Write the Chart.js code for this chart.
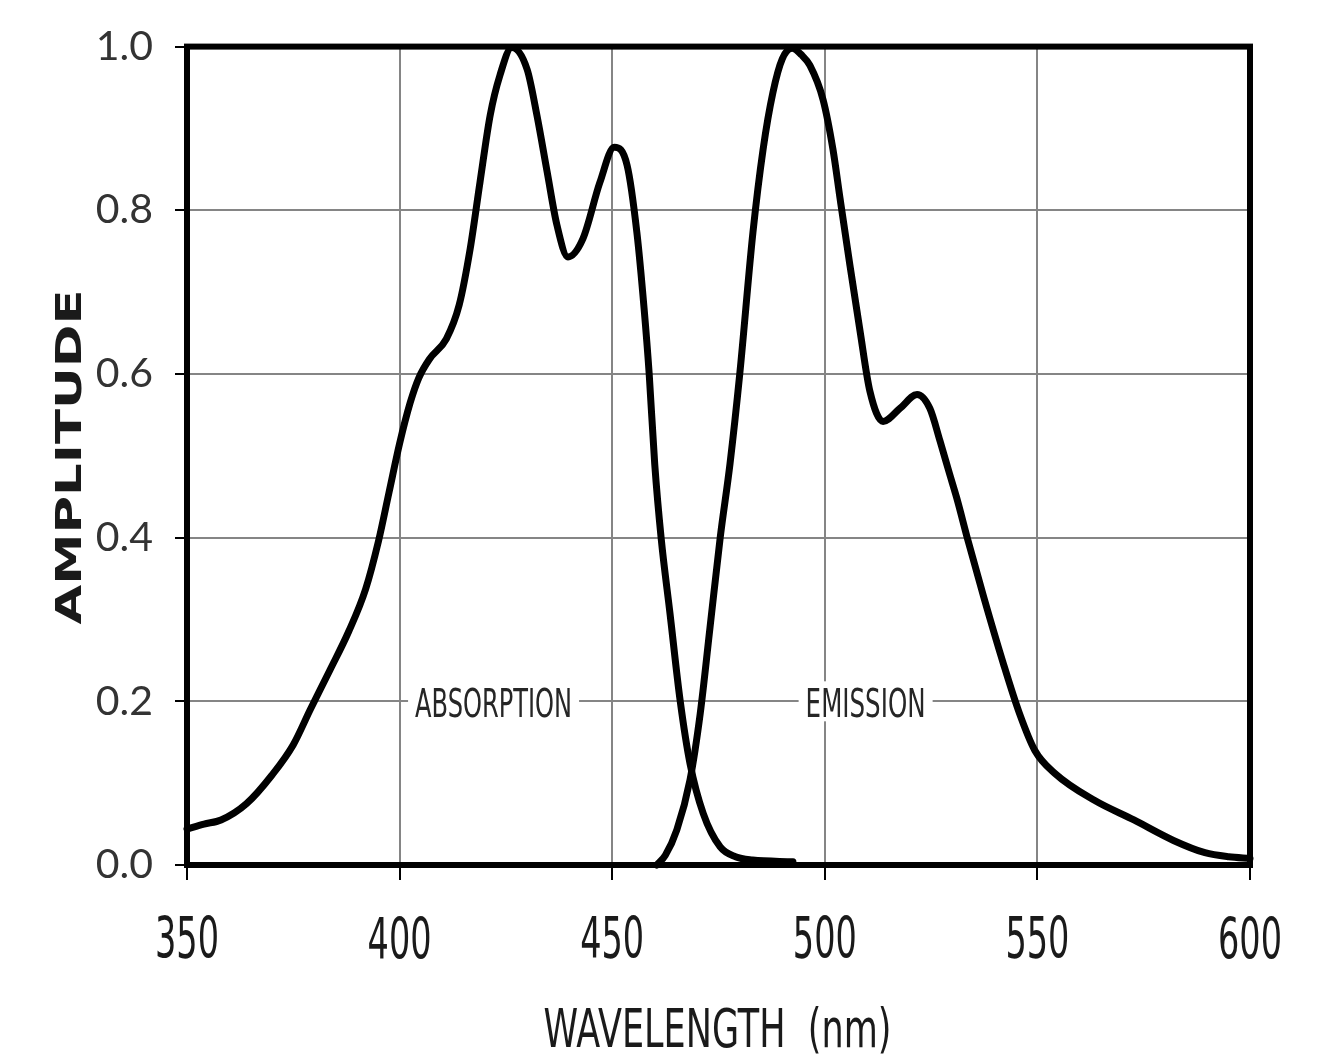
<!DOCTYPE html>
<html>
<head>
<meta charset="utf-8">
<script src="https://cdn.jsdelivr.net/npm/chart.js@4/dist/chart.umd.min.js"></script>
<style>
  html, body { margin: 0; padding: 0; background: #ffffff; }
  #wrap { width: 1336px; height: 1061px; }
</style>
</head>
<body>
<div id="wrap"><canvas id="spectrumChart" width="1336" height="1061"></canvas></div>
<script>
// absorption curve
const absWavelength = [350, 354, 358, 364, 370, 375, 379, 383.6, 388, 392, 395, 397.5, 400, 402.5, 404.5, 407, 411, 414, 416.6, 418.9, 421.3, 423.6, 426.4, 430, 432.3, 434.7, 437, 439.6, 443.1, 447.1, 450.5, 453.5, 455.8, 457.5, 458.7, 460, 461.5, 463.6, 466, 468.3, 471.4, 475.4, 479, 483, 492.5];
const absAmplitude = [0.044, 0.05, 0.055, 0.075, 0.11, 0.147, 0.19, 0.238, 0.285, 0.337, 0.395, 0.455, 0.515, 0.565, 0.595, 0.618, 0.643, 0.684, 0.753, 0.834, 0.916, 0.965, 0.999, 0.972, 0.916, 0.847, 0.782, 0.743, 0.765, 0.834, 0.877, 0.855, 0.773, 0.68, 0.6, 0.49, 0.4, 0.307, 0.2, 0.124, 0.063, 0.022, 0.01, 0.006, 0.004];

// emission curve
const emWavelength = [460.5, 462.5, 465.2, 468.3, 470.7, 473, 475.4, 477.7, 480, 483.1, 485.5, 487.8, 490, 492.3, 494.5, 496.5, 499.6, 501.9, 503.6, 505.9, 508.3, 510.6, 513.7, 517.7, 521.7, 524.7, 527.1, 529.4, 531, 533.7, 537.4, 542, 545.8, 549.4, 554.1, 563.4, 572.7, 582, 589.4, 595, 600];
const emAmplitude = [0, 0.012, 0.043, 0.104, 0.185, 0.29, 0.4, 0.49, 0.6, 0.773, 0.875, 0.944, 0.985, 0.998, 0.99, 0.977, 0.935, 0.875, 0.814, 0.733, 0.652, 0.579, 0.542, 0.558, 0.575, 0.558, 0.518, 0.477, 0.449, 0.396, 0.327, 0.246, 0.185, 0.14, 0.112, 0.079, 0.055, 0.03, 0.015, 0.01, 0.008];

const xTicks = [350, 400, 450, 500, 550, 600];
const yTicks = [0, 0.2, 0.4, 0.6, 0.8, 1.0];

// curve labels sit on the 0.2 gridline
const curveLabels = ['ABSORPTION', 'EMISSION'];
const curveLabelX = [422.1, 509.6];
const curveLabelY = [0.2, 0.2];

const xTitle = 'WAVELENGTH  (nm)';
const yTitle = 'AMPLITUDE';

function toPoints(xs, ys) {
    return xs.map((x, i) => ({ x: x, y: ys[i] }));
}

// draws text squeezed/stretched to a given width, centred on (cx, cy)
function fitText(ctx, text, cx, cy, width, font, color, rotate) {
    ctx.save();
    ctx.translate(cx, cy);
    if (rotate) {
        ctx.rotate(-Math.PI / 2);
    }
    ctx.font = font;
    const m = ctx.measureText(text);
    ctx.scale(width / m.width, 1);
    ctx.fillStyle = color;
    ctx.textAlign = 'center';
    ctx.textBaseline = 'alphabetic';
    ctx.fillText(text, 0, (m.actualBoundingBoxAscent - m.actualBoundingBoxDescent) / 2);
    ctx.restore();
}

const framePlugin = {
    id: 'frame',
    afterDatasetsDraw(chart) {
        const { ctx, chartArea } = chart;
        ctx.save();
        ctx.strokeStyle = '#000000';
        ctx.lineWidth = 6;
        ctx.strokeRect(chartArea.left, chartArea.top, chartArea.right - chartArea.left, chartArea.bottom - chartArea.top);
        ctx.restore();
    },
};

const textPlugin = {
    id: 'texts',
    afterDraw(chart) {
        const { ctx, scales } = chart;
        const labelWidths = [157, 120];
        const condensed = '"DejaVu Sans", sans-serif';

        curveLabels.forEach((label, i) => {
            const cx = scales.x.getPixelForValue(curveLabelX[i]);
            const cy = scales.y.getPixelForValue(curveLabelY[i]);
            const w = labelWidths[i];
            ctx.save();
            ctx.fillStyle = '#ffffff';
            ctx.fillRect(cx - w / 2 - 7, cy - 20, w + 14, 40);
            ctx.restore();
            fitText(ctx, label, cx, cy + 1, w, '39px ' + condensed, '#262626', false);
        });

        // narrow tick numbers under the x axis, placed by the x scale
        scales.x.ticks.forEach((t) => {
            const px = scales.x.getPixelForValue(t.value);
            fitText(ctx, String(t.value), px, 937, 64, '57px ' + condensed, '#1a1a1a', false);
        });

        const area = chart.chartArea;
        fitText(ctx, xTitle, (area.left + area.right) / 2 - 1, 1030, 348, '54px ' + condensed, '#1a1a1a', false);
        fitText(ctx, yTitle, 68, 457, 335, 'bold 36px "DejaVu Sans", sans-serif', '#1a1a1a', true);
    },
};

new Chart(document.getElementById('spectrumChart'), {
    type: 'scatter',
    data: {
        datasets: [
            {
                label: 'Absorption',
                data: toPoints(absWavelength, absAmplitude),
                showLine: true,
                borderColor: '#000000',
                borderWidth: 7,
                pointRadius: 0,
                cubicInterpolationMode: 'monotone',
                borderCapStyle: 'round',
                borderJoinStyle: 'round',
                clip: 4,
            },
            {
                label: 'Emission',
                data: toPoints(emWavelength, emAmplitude),
                showLine: true,
                borderColor: '#000000',
                borderWidth: 7,
                pointRadius: 0,
                cubicInterpolationMode: 'monotone',
                borderCapStyle: 'round',
                borderJoinStyle: 'round',
                clip: 4,
            },
        ],
    },
    options: {
        responsive: false,
        animation: false,
        layout: {
            padding: { top: 44, right: 86, left: 0, bottom: 0 },
        },
        plugins: {
            legend: { display: false },
            tooltip: { enabled: false },
        },
        scales: {
            x: {
                type: 'linear',
                min: xTicks[0],
                max: xTicks[xTicks.length - 1],
                afterFit: (scale) => { scale.height = 196; },
                afterBuildTicks: (scale) => { scale.ticks = xTicks.map((v) => ({ value: v })); },
                ticks: {
                    display: false,
                },
                grid: {
                    color: '#858585',
                    lineWidth: 2,
                    tickColor: '#000000',
                    tickWidth: 2,
                    tickLength: 15,
                },
                border: { display: false },
            },
            y: {
                type: 'linear',
                min: yTicks[0],
                max: yTicks[yTicks.length - 1],
                afterFit: (scale) => { scale.width = 187; },
                afterBuildTicks: (scale) => { scale.ticks = yTicks.map((v) => ({ value: v })); },
                ticks: {
                    color: '#333333',
                    padding: 22,
                    callback: (value) => value.toFixed(1),
                    font: { family: 'Lato, "DejaVu Sans", sans-serif', size: 41 },
                },
                grid: {
                    color: '#858585',
                    lineWidth: 2,
                    tickColor: '#000000',
                    tickWidth: 2,
                    tickLength: 12,
                },
                border: { display: false },
            },
        },
    },
    plugins: [framePlugin, textPlugin],
});
</script>
</body>
</html>
